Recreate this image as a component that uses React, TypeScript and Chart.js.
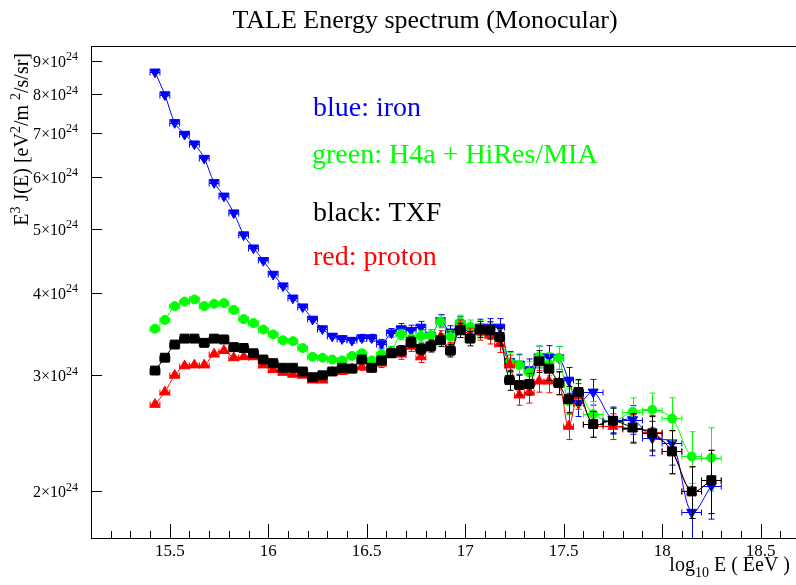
import React, { useEffect, useRef } from "react";
import { Chart, registerables } from "chart.js";
Chart.register(...registerables);

const energyBins = [
  15.425, 15.475, 15.525, 15.575, 15.625, 15.675, 15.725, 15.775, 15.825, 15.875,
  15.925, 15.975, 16.025, 16.075, 16.125, 16.175, 16.225, 16.275, 16.325, 16.375,
  16.425, 16.475, 16.525, 16.575, 16.625, 16.675, 16.725, 16.775, 16.825, 16.875,
  16.925, 16.975, 17.025, 17.075, 17.125, 17.175, 17.225, 17.275, 17.325, 17.375,
  17.425, 17.475, 17.525, 17.575, 17.65, 17.75, 17.85, 17.95, 18.05, 18.15,
  18.25,
];
const binHalfWidth = [
  0.025, 0.025, 0.025, 0.025, 0.025, 0.025, 0.025, 0.025, 0.025, 0.025,
  0.025, 0.025, 0.025, 0.025, 0.025, 0.025, 0.025, 0.025, 0.025, 0.025,
  0.025, 0.025, 0.025, 0.025, 0.025, 0.025, 0.025, 0.025, 0.025, 0.025,
  0.025, 0.025, 0.025, 0.025, 0.025, 0.025, 0.025, 0.025, 0.025, 0.025,
  0.025, 0.025, 0.025, 0.025, 0.05, 0.05, 0.05, 0.05, 0.05, 0.05,
  0.05,
];
// E^3 J(E) in units of 1e24 eV^2/m^2/s/sr
const ironFlux = [
  8.65, 7.99, 7.25, 6.96, 6.73, 6.40, 5.88, 5.61, 5.29, 4.90,
  4.68, 4.48, 4.27, 4.10, 3.93, 3.81, 3.65, 3.53, 3.44, 3.41,
  3.39, 3.42, 3.42, 3.35, 3.48, 3.53, 3.51, 3.55, 3.45, 3.63,
  3.49, 3.59, 3.51, 3.55, 3.55, 3.55, 3.15, 3.12, 3.06, 3.20,
  3.20, 3.19, 2.95, 2.72, 2.83, 2.57, 2.57, 2.41, 2.37, 1.86,
  2.04,
];
const h4aFlux = [
  3.53, 3.64, 3.82, 3.88, 3.91, 3.82, 3.85, 3.86, 3.77, 3.65,
  3.60, 3.52, 3.46, 3.39, 3.38, 3.30, 3.20, 3.19, 3.17, 3.16,
  3.21, 3.24, 3.16, 3.23, 3.27, 3.46, 3.40, 3.44, 3.45, 3.62,
  3.43, 3.61, 3.55, 3.53, 3.51, 3.42, 3.14, 3.11, 3.03, 3.20,
  3.12, 3.19, 2.74, 2.82, 2.62, 2.56, 2.64, 2.66, 2.58, 2.26,
  2.25,
];
const txfFlux = [
  3.05, 3.19, 3.34, 3.41, 3.41, 3.36, 3.41, 3.40, 3.31, 3.30,
  3.24, 3.17, 3.13, 3.08, 3.08, 3.04, 2.98, 3.00, 3.04, 3.08,
  3.07, 3.17, 3.08, 3.16, 3.24, 3.27, 3.37, 3.29, 3.32, 3.39,
  3.27, 3.51, 3.41, 3.52, 3.51, 3.43, 2.95, 2.90, 2.91, 3.15,
  3.07, 2.92, 2.76, 2.83, 2.53, 2.56, 2.50, 2.45, 2.30, 2.00,
  2.08,
];
const protonFlux = [
  2.71, 2.83, 3.00, 3.10, 3.11, 3.11, 3.23, 3.27, 3.19, 3.20,
  3.20, 3.11, 3.06, 3.03, 3.01, 3.00, 2.95, 2.95, 3.03, 3.04,
  3.07, 3.09, 3.07, 3.13, 3.24, 3.23, 3.32, 3.20, 3.33, 3.43,
  3.29, 3.55, 3.45, 3.49, 3.45, 3.35, 3.11, 2.80, 2.83, 2.94,
  2.94, 2.92, 2.51, 2.79, 2.53, 2.51, 2.49, 2.46, 2.30, 2.00,
  2.08,
];
// relative statistical error per energy bin
const relErr = [
  0.005, 0.005, 0.005, 0.005, 0.005, 0.005, 0.005, 0.005, 0.005, 0.005,
  0.005, 0.005, 0.005, 0.005, 0.005, 0.005, 0.005, 0.008, 0.008, 0.01,
  0.01, 0.012, 0.012, 0.015, 0.015, 0.018, 0.018, 0.02, 0.02, 0.022,
  0.022, 0.025, 0.025, 0.028, 0.03, 0.03, 0.035, 0.035, 0.038, 0.038,
  0.04, 0.04, 0.045, 0.045, 0.045, 0.045, 0.05, 0.06, 0.075, 0.09,
  0.11,
];
const yTickValues = [2, 3, 4, 5, 6, 7, 8, 9];
const xMajorTicks = [15.5, 16, 16.5, 17, 17.5, 18, 18.5];
const xTickLabels = ["15.5", "16", "16.5", "17", "17.5", "18", "18.5"];

const FONT = '"Liberation Serif", "Times New Roman", Times, serif';

type Seg = [string, "n" | "sup" | "sub"];
function drawRich(ctx: CanvasRenderingContext2D, segs: Seg[], x: number, y: number, size: number, align: "left" | "right" | "center") {
  const small = Math.round(size * 0.72);
  let total = 0;
  const widths = segs.map(([t, k]) => {
    ctx.font = `${k === "n" ? size : small}px ${FONT}`;
    const w = ctx.measureText(t).width;
    total += w;
    return w;
  });
  let cx = align === "left" ? x : align === "right" ? x - total : x - total / 2;
  ctx.textAlign = "left";
  ctx.textBaseline = "alphabetic";
  segs.forEach(([t, k], i) => {
    ctx.font = `${k === "n" ? size : small}px ${FONT}`;
    const dy = k === "sup" ? -size * 0.42 : k === "sub" ? size * 0.28 : 0;
    ctx.fillText(t, cx, y + dy);
    cx += widths[i];
  });
}

const rootStyle = {
  id: "rootStyle",
  beforeDatasetDraw(chart: any, args: any) {
    const ds = chart.data.datasets[args.index];
    const xs = chart.scales.x;
    const ys = chart.scales.y;
    const ctx: CanvasRenderingContext2D = chart.ctx;
    const a = chart.chartArea;
    ctx.save();
    ctx.beginPath();
    ctx.rect(a.left, a.top, a.right - a.left, a.bottom - a.top);
    ctx.clip();
    ctx.strokeStyle = ds.borderColor;
    ctx.lineWidth = 1;
    ds.data.forEach((p: any, i: number) => {
      const cx = Math.round(xs.getPixelForValue(p.x)) + 0.5;
      const cy = Math.round(ys.getPixelForValue(p.y)) + 0.5;
      const x1 = xs.getPixelForValue(p.x - binHalfWidth[i]);
      const x2 = xs.getPixelForValue(p.x + binHalfWidth[i]);
      const e = p.y * relErr[i];
      const y1 = ys.getPixelForValue(p.y + e);
      const y2 = ys.getPixelForValue(p.y - e);
      ctx.beginPath();
      ctx.moveTo(x1, cy); ctx.lineTo(x2, cy);
      ctx.moveTo(x1, cy - 3); ctx.lineTo(x1, cy + 3);
      ctx.moveTo(x2, cy - 3); ctx.lineTo(x2, cy + 3);
      ctx.moveTo(cx, y1); ctx.lineTo(cx, y2);
      ctx.moveTo(cx - 3, y1); ctx.lineTo(cx + 3, y1);
      ctx.moveTo(cx - 3, y2); ctx.lineTo(cx + 3, y2);
      ctx.stroke();
    });
    ctx.restore();
  },
  afterDraw(chart: any) {
    const ctx: CanvasRenderingContext2D = chart.ctx;
    const a = chart.chartArea;
    const xs = chart.scales.x;
    const ys = chart.scales.y;
    ctx.save();
    ctx.strokeStyle = "#000";
    ctx.fillStyle = "#000";
    ctx.lineWidth = 1;
    ctx.strokeRect(Math.round(a.left) + 0.5, Math.round(a.top) + 0.5, Math.round(a.right - a.left), Math.round(a.bottom - a.top));
    // x ticks
    ctx.beginPath();
    for (let k = 152; k <= 186; k++) {
      const v = k / 10;
      const px = Math.round(xs.getPixelForValue(v)) + 0.5;
      const len = k % 5 === 0 ? 14 : 7;
      ctx.moveTo(px, a.bottom);
      ctx.lineTo(px, a.bottom - len);
    }
    // y ticks
    yTickValues.forEach((v) => {
      const py = Math.round(ys.getPixelForValue(v)) + 0.5;
      ctx.moveTo(a.left, py);
      ctx.lineTo(a.left + 11, py);
    });
    ctx.stroke();
    // x labels
    ctx.font = `17px ${FONT}`;
    ctx.textAlign = "center";
    ctx.textBaseline = "top";
    xMajorTicks.forEach((v, i) => {
      ctx.fillText(xTickLabels[i], xs.getPixelForValue(v), a.bottom + 5);
    });
    // y labels
    yTickValues.forEach((v) => {
      const py = ys.getPixelForValue(v);
      drawRich(ctx, [[`${v}\u00d710`, "n"], ["24", "sup"]], 78, py + 6, 16, "right");
    });
    // y title
    ctx.save();
    ctx.translate(28, 53);
    ctx.rotate(-Math.PI / 2);
    drawRich(ctx, [["E", "n"], ["3", "sup"], [" J(E) [eV", "n"], ["2", "sup"], ["/m ", "n"], ["2", "sup"], ["/s/sr]", "n"]], 0, 0, 20, "right");
    ctx.restore();
    // x title
    drawRich(ctx, [["log", "n"], ["10", "sub"], [" E ( EeV )", "n"]], 790, 571, 20, "right");
    // main title
    ctx.font = `26px ${FONT}`;
    ctx.textAlign = "center";
    ctx.textBaseline = "alphabetic";
    ctx.fillText("TALE Energy spectrum (Monocular)", 425, 28);
    // annotations
    ctx.textAlign = "left";
    ctx.font = `28px ${FONT}`;
    ctx.fillStyle = "#0000ff";
    ctx.fillText("blue: iron", 313, 116);
    ctx.fillStyle = "#00ff00";
    ctx.fillText("green: H4a + HiRes/MIA", 312, 163);
    ctx.fillStyle = "#000000";
    ctx.fillText("black: TXF", 313, 221);
    ctx.fillStyle = "#ff0000";
    ctx.fillText("red: proton", 313, 265);
    ctx.restore();
  },
};

function series(label: string, values: number[], color: string, style: string, rot: number, radius: number) {
  return {
    label,
    data: energyBins.map((x, i) => ({ x, y: values[i] })),
    borderColor: color,
    backgroundColor: color,
    borderWidth: 1,
    pointStyle: style,
    pointRotation: rot,
    pointRadius: radius,
    pointBorderWidth: 1,
    pointBackgroundColor: color,
    pointBorderColor: color,
    tension: 0.35,
    fill: false,
  };
}

export default function App() {
  const ref = useRef<HTMLCanvasElement | null>(null);
  useEffect(() => {
    if (!ref.current) return;
    const chart = new Chart(ref.current, {
      type: "line",
      data: {
        datasets: [
          series("black: TXF", txfFlux, "#000000", "rect", 0, 6.3),
          series("red: proton", protonFlux, "#ff0000", "triangle", 0, 5.8),
          series("green: H4a + HiRes/MIA", h4aFlux, "#00ff00", "circle", 0, 4.5),
          series("blue: iron", ironFlux, "#0000ff", "triangle", 180, 5.8),
        ] as any,
      },
      options: {
        animation: false,
        responsive: false,
        maintainAspectRatio: false,
        layout: { padding: { left: 91, top: 46, right: 20, bottom: 47 } },
        plugins: { legend: { display: false }, title: { display: false }, tooltip: { enabled: false } },
        scales: {
          x: {
            type: "linear",
            min: 15.1,
            max: 18.7,
            ticks: { display: false },
            grid: { display: false, drawTicks: false },
            border: { display: false },
            afterFit: (s: any) => { s.height = 0; },
          },
          y: {
            type: "logarithmic",
            min: 1.73,
            max: 9.47,
            ticks: { display: false },
            grid: { display: false, drawTicks: false },
            border: { display: false },
            afterFit: (s: any) => { s.width = 0; },
          },
        },
      } as any,
      plugins: [rootStyle],
    });
    return () => chart.destroy();
  }, []);
  return (
    <div style={{ position: "fixed", left: 0, top: 0, width: 796, height: 585, overflow: "hidden", background: "#fff" }}>
      <canvas ref={ref} width={820} height={585} style={{ width: 820, height: 585, display: "block" }} />
    </div>
  );
}
